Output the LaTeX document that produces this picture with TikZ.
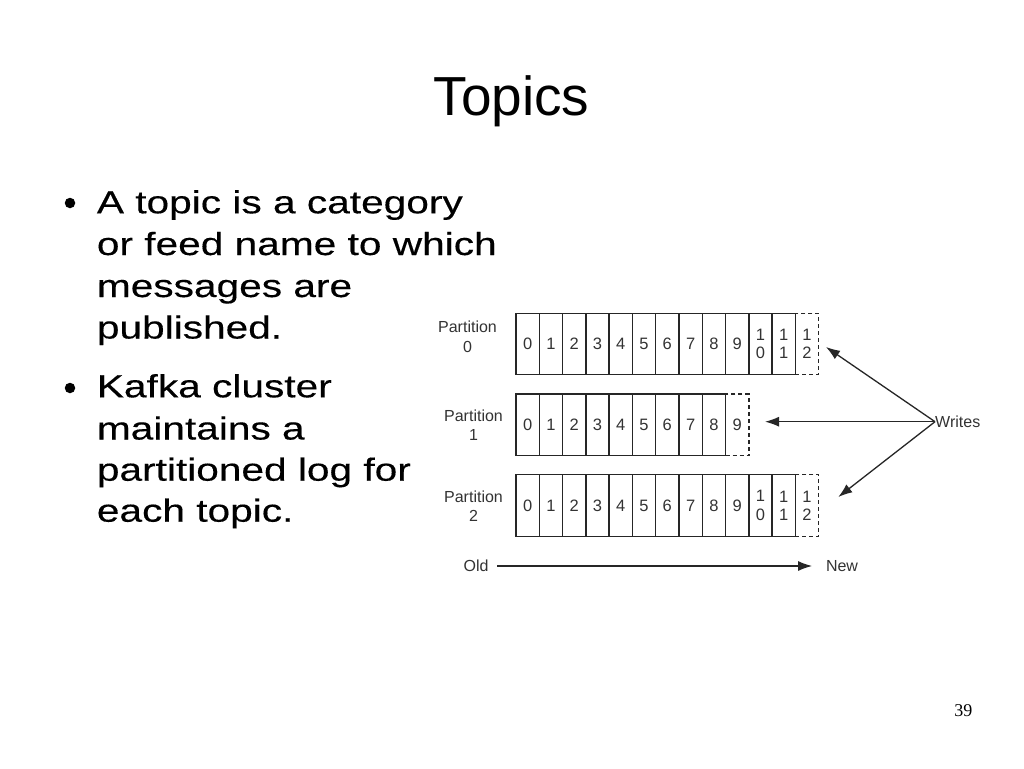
\documentclass[tikz,border=0pt]{standalone}
\usepackage{fontspec}
\setmainfont{Liberation Sans}
\newfontfamily\bodyfont[FakeStretch=1.27,FakeBold=0.3]{Liberation Sans}
\newfontfamily\numfont{Liberation Serif}
\usetikzlibrary{arrows.meta}
\begin{document}
\begin{tikzpicture}[x=1pt,y=-1pt,
  titletext/.style={font=\fontsize{55}{60}\selectfont, inner sep=0pt, anchor=base},
  bodyline/.style={font=\bodyfont\fontsize{32}{41.5}\selectfont, inner sep=0pt, anchor=base west},
  bulletdot/.style={circle, fill=black, inner sep=0pt, minimum size=10.5pt},
  plabel/.style={font=\fontsize{16}{19.5}\selectfont, text=black!80, align=center, inner sep=0pt},
  cellbox/.style={draw=black!85, line width=1.4pt, minimum width=23.28pt, inner sep=0pt, outer sep=0pt,
    font=\fontsize{16.5}{18.3}\selectfont, text=black!80, align=center},
  digitcell/.style={cellbox, text height=11.8pt, text depth=0pt},
  newcell/.style={cellbox, dashed, dash pattern=on 4pt off 3pt},
  writearrow/.style={draw=black!85, line width=1.3pt, -{Latex[length=14pt,width=10pt]}},
  small/.style={font=\fontsize{16}{19}\selectfont, text=black!80, inner sep=0pt}
]
\useasboundingbox (0,0) rectangle (1024,768);
\fill[white] (0,0) rectangle (1024,768);

% title
\node[titletext] (title) at (511.4,115) {Topics};

% bullets
\node[bulletdot] (bul1) at (70,203) {};
\node[bulletdot] (bul2) at (70,388) {};
\node[bodyline] (l1) at (96.7,213.3) {A topic is a category};
\node[bodyline] (l2) at (96.7,255) {or feed name to which};
\node[bodyline] (l3) at (96.7,297) {messages are};
\node[bodyline] (l4) at (96.7,338.5) {published.};
\node[bodyline] (l5) at (96.7,397.3) {Kafka cluster};
\node[bodyline] (l6) at (96.7,439.5) {maintains a};
\node[bodyline] (l7) at (96.7,480.7) {partitioned log for};
\node[bodyline] (l8) at (96.7,521.7) {each topic.};

% partition labels
\node[plabel] (p0) at (467.5,337) {Partition\\0};
\node[plabel] (p1) at (473.5,425) {Partition\\1};
\node[plabel] (p2) at (473.5,506) {Partition\\2};

% row 0
\foreach \i in {0,...,9} {
  \node[digitcell, minimum height=61.4pt] (r0c\i) at ({516+23.28*(\i+0.5)},344) {\i};
}
\node[cellbox, minimum height=61.4pt] (r0c10) at ({516+23.28*10.5},344) {1\\0};
\node[cellbox, minimum height=61.4pt] (r0c11) at ({516+23.28*11.5},344) {1\\1};
\node[newcell, minimum height=61.4pt] (r0c12) at ({516+23.28*12.5},344) {1\\2};

% row 1
\foreach \i in {0,...,8} {
  \node[digitcell, minimum height=61.3pt] (r1c\i) at ({516+23.28*(\i+0.5)},424.7) {\i};
}
\node[newcell, text height=11.8pt, text depth=0pt, minimum height=61.3pt] (r1c9) at ({516+23.28*9.5},424.7) {9};

% row 2
\foreach \i in {0,...,9} {
  \node[digitcell, minimum height=62.4pt] (r2c\i) at ({516+23.28*(\i+0.5)},505.5) {\i};
}
\node[cellbox, minimum height=62.4pt] (r2c10) at ({516+23.28*10.5},505.5) {1\\0};
\node[cellbox, minimum height=62.4pt] (r2c11) at ({516+23.28*11.5},505.5) {1\\1};
\node[newcell, minimum height=62.4pt] (r2c12) at ({516+23.28*12.5},505.5) {1\\2};

% writes
\node[small, anchor=west] (writes) at (935,421.7) {Writes};
\coordinate (t0) at (826,347);
\coordinate (t1) at (765,421.7);
\coordinate (t2) at (838.3,497);
\draw[writearrow] (writes.west) -- (t0);
\draw[writearrow] (writes.west) -- (t1);
\draw[writearrow] (writes.west) -- (t2);

% old -> new
\node[small] (old) at (476,566) {Old};
\node[small] (new) at (842,566) {New};
\draw[writearrow] ([xshift=8.7pt]old.east) -- ([xshift=-13.7pt]new.west);

% page number
\node[font=\numfont\fontsize{18}{20}\selectfont, inner sep=0pt, anchor=base] (page) at (963.4,716) {39};
\end{tikzpicture}
\end{document}
